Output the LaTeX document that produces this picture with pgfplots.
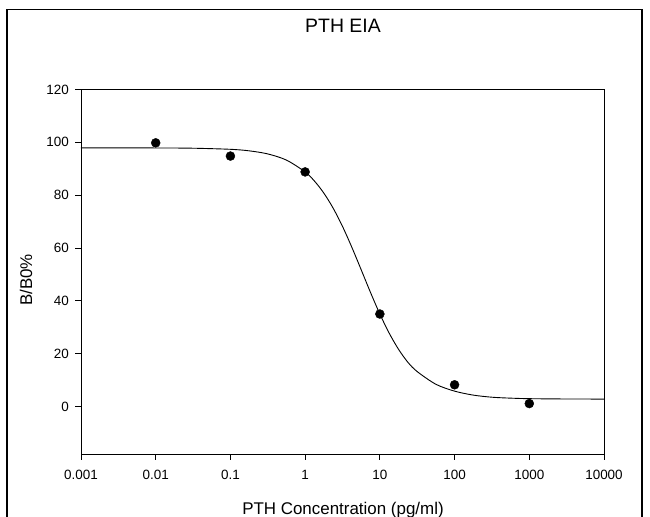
\documentclass[border=0pt]{standalone}
\usepackage{fontspec}
\setmainfont{Liberation Sans}
\usepackage{pgfplots}
\pgfplotsset{compat=1.18}
\begin{document}
\begin{tikzpicture}
\useasboundingbox (0bp,0bp) rectangle (650bp,-517bp);
\draw[line width=1.3bp] (7bp,-530bp) -- (7bp,-9.5bp) -- (642bp,-9.5bp) -- (642bp,-530bp);
\begin{axis}[
  at={(81bp,-454bp)}, anchor=south west,
  width=523bp, height=364.5bp, scale only axis,
  xmode=log, xmin=0.001, xmax=10000, ymin=-18, ymax=120,
  axis line style={line width=0.8bp},
  xtick={0.001,0.01,0.1,1,10,100,1000,10000},
  xticklabels={0.001,0.01,0.1,1,10,100,1000,10000},
  ytick={0,20,40,60,80,100,120},
  tick align=outside, tick pos=left, major tick length=5.7bp,
  xminorticks=false, yminorticks=false,
  tick style={line width=0.8bp, black},
  ticklabel style={font=\fontsize{13.5}{15}\selectfont},
  xticklabel style={yshift=-7bp},
  yticklabel style={xshift=-3bp},
  /pgf/number format/assume math mode=true,
]
\addplot[black, line width=0.9bp, smooth] coordinates {
(0.001,97.9)(0.01,97.87)(0.031623,97.77)(0.1,97.36)(0.17783,96.78)(0.31623,95.61)
(0.56234,93.27)(1,88.79)(1.33352,85.32)(1.77828,80.79)(2.37137,75.07)(3.16228,68.18)
(4.21697,60.27)(5.62341,51.76)(7.49894,43.16)(10,35.0)(13.3352,27.75)(17.7828,21.64)
(23.7137,16.73)(31.6228,13.2)(56.2341,8.4)(100,5.8)(177.828,4.3)(316.228,3.5)
(562.341,3.15)(1000,2.95)(3162.28,2.83)(10000,2.8)
};
\addplot[only marks, mark=*, mark size=4.5bp, black] coordinates {
(0.01,99.8)(0.1,94.8)(1,88.8)(10,35.0)(100,8.2)(1000,1.1)
};
\end{axis}
\node[anchor=base, font=\fontsize{19.5}{22}\selectfont, inner sep=0pt] at (343bp,-32.7bp) {PTH EIA};
\node[anchor=base, font=\fontsize{17}{20}\selectfont, inner sep=0pt] at (343bp,-514bp) {PTH Concentration (pg/ml)};
\node[anchor=base, rotate=90, font=\fontsize{17}{20}\selectfont, inner sep=0pt] at (32bp,-280bp) {B/B0\%};
\end{tikzpicture}
\end{document}
